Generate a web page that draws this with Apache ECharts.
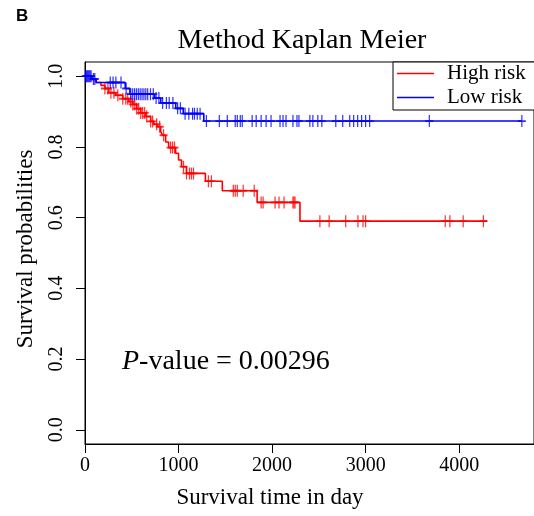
<!DOCTYPE html>
<html>
<head>
<meta charset="utf-8">
<script src="https://cdn.jsdelivr.net/npm/echarts@6/dist/echarts.min.js"></script>
<style>
  html, body { margin: 0; padding: 0; background: #fff; }
  #chart { width: 534px; height: 516px; }
</style>
</head>
<body>
<div id="chart"></div>
<script>
// tick labels
const xTicks = [0, 1000, 2000, 3000, 4000];
const yTicks = [0, 0.2, 0.4, 0.6, 0.8, 1.0];

// Low risk: step times and survival after each step
const lowTimes = [0, 75, 120, 430, 480, 745, 810, 970, 1050, 1270, 4670];
const lowSurv = [1.0, 0.992, 0.982, 0.965, 0.949, 0.938, 0.924, 0.909, 0.894, 0.873, 0.873];
const lowCensor = [5, 15, 25, 35, 45, 55, 65, 90, 105, 270, 300, 330, 385, 440, 490, 510, 530, 550,
  570, 590, 610, 630, 650, 670, 700, 730, 760, 790, 830, 870, 900, 940, 990, 1020, 1070, 1110, 1150,
  1170, 1200, 1230, 1298, 1436, 1521, 1606, 1628, 1660, 1681, 1787, 1830, 1883, 1936, 1989, 2085,
  2117, 2149, 2223, 2266, 2287, 2404, 2436, 2489, 2532, 2681, 2755, 2830, 2872, 2915, 2957, 3000,
  3043, 3681, 4670];

// High risk
const highTimes = [0, 64, 117, 170, 213, 255, 330, 404, 468, 511, 553, 596, 649, 702, 734, 777, 809,
  830, 862, 894, 968, 1000, 1032, 1085, 1287, 1468, 1840, 2298, 4300];
const highSurv = [1.0, 0.99, 0.982, 0.974, 0.965, 0.953, 0.946, 0.936, 0.928, 0.92, 0.908, 0.896,
  0.886, 0.872, 0.864, 0.857, 0.843, 0.833, 0.814, 0.798, 0.782, 0.763, 0.744, 0.725, 0.703, 0.676,
  0.643, 0.59, 0.59];
const highCensor = [213, 245, 277, 309, 351, 404, 436, 457, 489, 511, 532, 553, 574, 596, 617, 638,
  660, 702, 723, 766, 798, 840, 915, 936, 957, 1053, 1085, 1117, 1138, 1160, 1319, 1351, 1585, 1606,
  1628, 1691, 1809, 1883, 1904, 2032, 2074, 2128, 2223, 2234, 2245, 2511, 2610, 2787, 2918, 2972,
  3000, 3851, 3901, 4043, 4259];

const FONT = 'Liberation Serif';

// survival value of the curve at time t (last step at or before t)
function survAt(times, surv, t) {
  let s = surv[0];
  for (let i = 0; i < times.length; i++) {
    if (times[i] <= t) s = surv[i];
  }
  return s;
}

const stepData = (times, surv) => times.map((t, i) => [t, surv[i]]);
const censorData = (times, surv, cens) => cens.map(t => [t, survAt(times, surv, t)]);

const plus = 'path://M4,0L4,12M0,6L8,6';

const chart = echarts.init(document.getElementById('chart'), null, { renderer: 'canvas' });

chart.setOption({
  backgroundColor: '#fff',
  animation: false,
  textStyle: { fontFamily: FONT, color: '#000' },
  grid: {
    left: 85,
    top: 62,
    width: 451,
    height: 382,
    show: true,
    borderColor: '#000',
    borderWidth: 1,
    backgroundColor: 'transparent',
  },
  legend: {
    data: ['High risk', 'Low risk'],
    orient: 'vertical',
    left: 393,
    top: 62,
    padding: [1, 10, 2, 4],
    borderColor: '#000',
    borderWidth: 1,
    backgroundColor: '#fff',
    icon: 'rect',
    itemWidth: 37,
    itemHeight: 1.5,
    itemGap: 3,
    textStyle: { fontFamily: FONT, fontSize: 21, color: '#000', lineHeight: 20, padding: [0, 0, 0, 8] },
  },
  xAxis: {
    type: 'value',
    min: 0,
    max: 4800,
    axisLine: { show: true, onZero: false, lineStyle: { color: '#000', width: 1 } },
    axisTick: { show: true, length: 9, customValues: xTicks, lineStyle: { color: '#000' } },
    axisLabel: {
      customValues: xTicks,
      fontFamily: FONT,
      fontSize: 20,
      color: '#000',
      margin: 12,
      formatter: v => String(v),
    },
    splitLine: { show: false },
  },
  yAxis: {
    type: 'value',
    min: -0.04,
    max: 1.04,
    axisLine: { show: true, onZero: false, lineStyle: { color: '#000', width: 1 } },
    axisTick: { show: true, length: 9, customValues: yTicks, lineStyle: { color: '#000' } },
    axisLabel: {
      customValues: yTicks,
      rotate: 90,
      fontFamily: FONT,
      fontSize: 20,
      color: '#000',
      margin: 18,
      formatter: v => v.toFixed(1),
    },
    splitLine: { show: false },
  },
  graphic: [
    { type: 'text', left: 16, top: 8, style: { text: 'B', font: 'bold 17px "Liberation Sans"', fill: '#000' } },
    { type: 'text', x: 302, y: 41, style: { text: 'Method Kaplan Meier', font: '28px "Liberation Serif"', fill: '#000', textAlign: 'center', textVerticalAlign: 'middle' } },
    { type: 'text', x: 270, y: 498, style: { text: 'Survival time in day', font: '23px "Liberation Serif"', fill: '#000', textAlign: 'center', textVerticalAlign: 'middle' } },
    { type: 'text', x: 26, y: 249, rotation: Math.PI / 2, style: { text: 'Survival probabilities', font: '23px "Liberation Serif"', fill: '#000', textAlign: 'center', textVerticalAlign: 'middle' } },
    {
      type: 'text', x: 122, y: 362,
      style: {
        text: '{i|P}-value = 0.00296',
        font: '28px "Liberation Serif"',
        fill: '#000',
        textVerticalAlign: 'middle',
        rich: { i: { fontStyle: 'italic', fontFamily: FONT, fontSize: 28 } },
      },
    },
  ],
  series: [
    {
      name: 'High risk',
      type: 'line',
      step: 'end',
      symbol: 'none',
      color: '#ff0000',
      lineStyle: { color: '#ff0000', width: 1.6 },
      data: stepData(highTimes, highSurv),
      z: 2,
    },
    {
      name: 'High risk censor',
      type: 'scatter',
      symbol: plus,
      symbolSize: [8, 12],
      itemStyle: { color: 'rgba(0,0,0,0)', borderColor: '#ff0000', borderWidth: 1.5 },
      data: censorData(highTimes, highSurv, highCensor),
      z: 3,
    },
    {
      name: 'Low risk',
      type: 'line',
      step: 'end',
      symbol: 'none',
      color: '#0000ff',
      lineStyle: { color: '#0000ff', width: 1.6 },
      data: stepData(lowTimes, lowSurv),
      z: 4,
    },
    {
      name: 'Low risk censor',
      type: 'scatter',
      symbol: plus,
      symbolSize: [8, 12],
      itemStyle: { color: 'rgba(0,0,0,0)', borderColor: '#0000ff', borderWidth: 1.5 },
      data: censorData(lowTimes, lowSurv, lowCensor),
      z: 5,
    },
  ],
});

window.addEventListener('resize', () => chart.resize());
</script>
</body>
</html>
